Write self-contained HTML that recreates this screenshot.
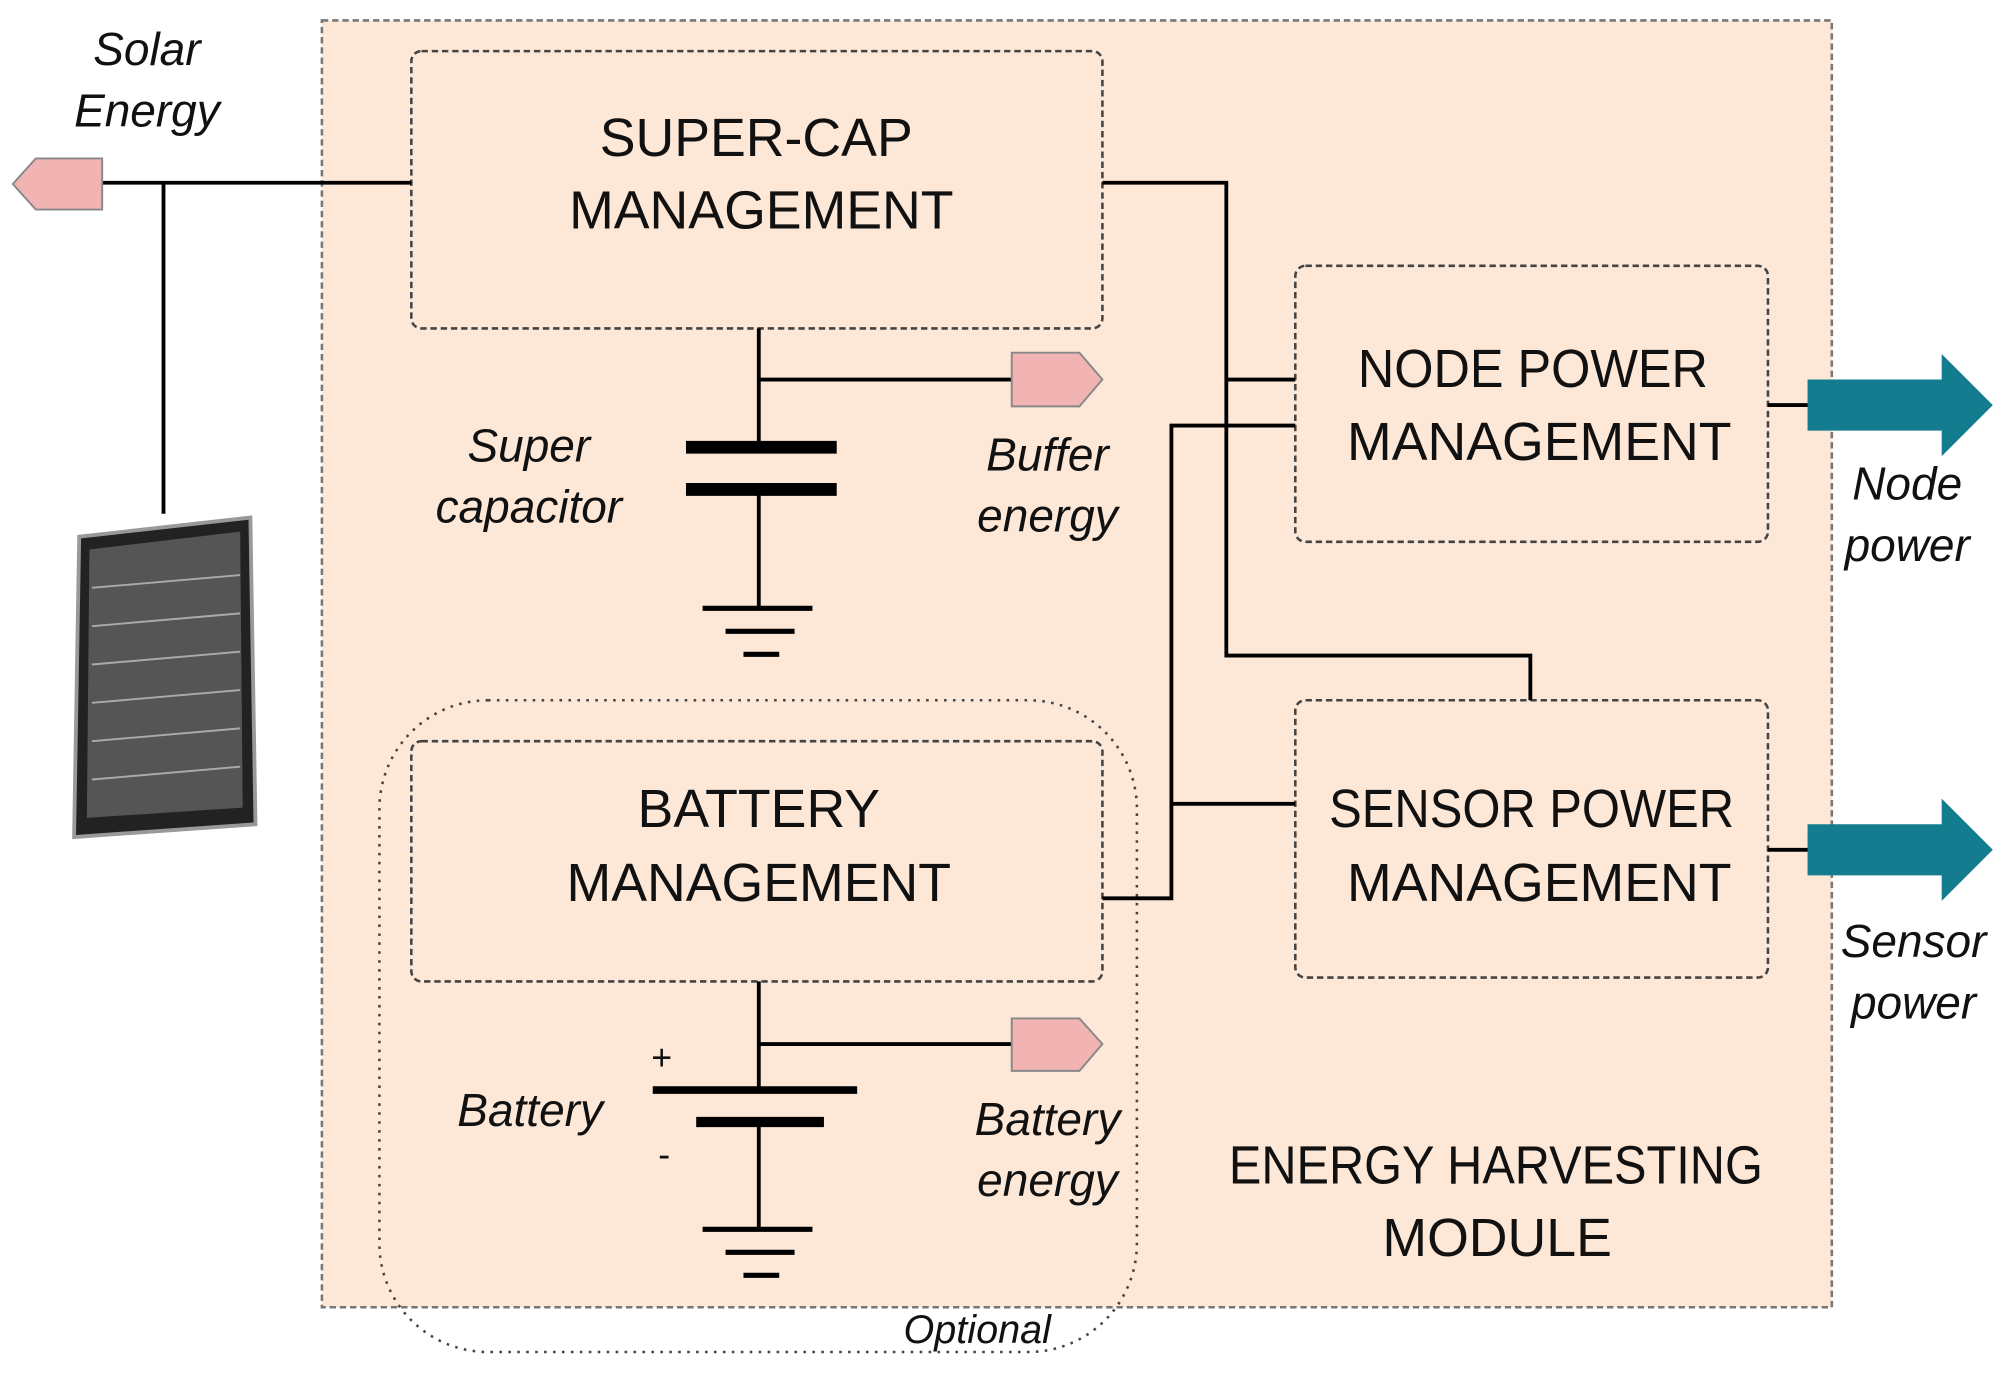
<!DOCTYPE html>
<html><head><meta charset="utf-8"><style>
html,body{margin:0;padding:0;background:#fff;}
svg{display:block;}
text{font-family:"Liberation Sans","DejaVu Sans",sans-serif;fill:#111;}
.t{font-size:42px;text-anchor:middle;}
.i{font-size:36px;font-style:italic;text-anchor:middle;}
</style></head><body>
<svg width="2003" height="1375" viewBox="0 0 1568 1076" preserveAspectRatio="none" xmlns="http://www.w3.org/2000/svg">
<rect x="0" y="0" width="1568" height="1076" fill="#fff"/>
<rect x="252" y="16" width="1182" height="1007" fill="#fde8d8" stroke="#777" stroke-width="2" stroke-dasharray="5,3"/>
<rect x="297" y="548" width="593" height="510" rx="85" fill="none" stroke="#444" stroke-width="2" stroke-dasharray="2,5"/>
<g fill="#fde8d8" stroke="#444" stroke-width="2" stroke-dasharray="5,3">
<rect x="322" y="40" width="541" height="217" rx="8"/>
<rect x="1014" y="208" width="370" height="216" rx="8"/>
<rect x="1014" y="548" width="370" height="217" rx="8"/>
<rect x="322" y="580" width="541" height="188" rx="8"/>
</g>
<text class="t" x="592" y="122">SUPER-CAP</text>
<text class="t" x="596" y="179">MANAGEMENT</text>
<text class="t" x="1200" y="303" textLength="274" lengthAdjust="spacingAndGlyphs">NODE POWER</text>
<text class="t" x="1205" y="360">MANAGEMENT</text>
<text class="t" x="1199" y="647" textLength="317" lengthAdjust="spacingAndGlyphs">SENSOR POWER</text>
<text class="t" x="1205" y="705">MANAGEMENT</text>
<text class="t" x="594" y="647">BATTERY</text>
<text class="t" x="594" y="705">MANAGEMENT</text>
<text class="t" x="1171" y="926" textLength="418" lengthAdjust="spacingAndGlyphs">ENERGY HARVESTING</text>
<text class="t" x="1172" y="983">MODULE</text>
<g fill="none" stroke="#000" stroke-width="3">
<path d="M80 143H322M128 143V402"/>
<path d="M863 143H960V513H1198V548M960 297H1014"/>
<path d="M863 703H917V333H1014M917 629H1014"/>
<path d="M594 257V350M594 297H792M594 383V476"/>
<path d="M594 768V853M594 817H792M594 878V962"/>
<path d="M1384 317H1416M1384 665H1416"/>
</g>
<g stroke="#000">
<path d="M537 350H655M537 383H655" stroke-width="10"/>
<path d="M550 476H636M568 494H622M582 512H610" stroke-width="4"/>
<path d="M511 853H671" stroke-width="6"/>
<path d="M545 878H645" stroke-width="8"/>
<path d="M550 962H636M568 980H622M582 998H610" stroke-width="4"/>
</g>
<g fill="#f2b3b3" stroke="#888" stroke-width="1.5">
<polygon points="80,124 80,164 28,164 10,144 28,124"/>
<polygon points="792,276 845,276 863,297 845,318 792,318"/>
<polygon points="792,797 845,797 863,817 845,838 792,838"/>
</g>
<g fill="#137c8e">
<polygon points="1415,297 1520,297 1520,277 1560,317 1520,357 1520,337 1415,337"/>
<polygon points="1415,645 1520,645 1520,625 1560,665 1520,705 1520,685 1415,685"/>
</g>
<polygon points="62,420 196,405 200,645 58,655" fill="#222" stroke="#999" stroke-width="3"/>
<polygon points="70,430 188,416 190,632 68,640" fill="#555"/>
<g stroke="#aaa" stroke-width="1.5">
<path d="M72 460L188 450M72 490L188 480M72 520L188 510M72 550L188 540M72 580L188 570M72 610L188 600"/>
</g>
<text class="i" x="115" y="51">Solar</text>
<text class="i" x="115" y="99">Energy</text>
<text class="i" x="414" y="361">Super</text>
<text class="i" x="414" y="409">capacitor</text>
<text class="i" x="820" y="368">Buffer</text>
<text class="i" x="820" y="416">energy</text>
<text class="i" x="415" y="881">Battery</text>
<text class="i" x="820" y="888">Battery</text>
<text class="i" x="820" y="936">energy</text>
<text class="i" x="1493" y="391">Node</text>
<text class="i" x="1493" y="439">power</text>
<text class="i" x="1498" y="749">Sensor</text>
<text class="i" x="1498" y="797">power</text>
<text class="i" x="765" y="1051" style="font-size:31px">Optional</text>
<text x="518" y="837" style="font-size:28px;text-anchor:middle">+</text>
<text x="520" y="913" style="font-size:28px;text-anchor:middle">-</text>
</svg>
</body></html>
